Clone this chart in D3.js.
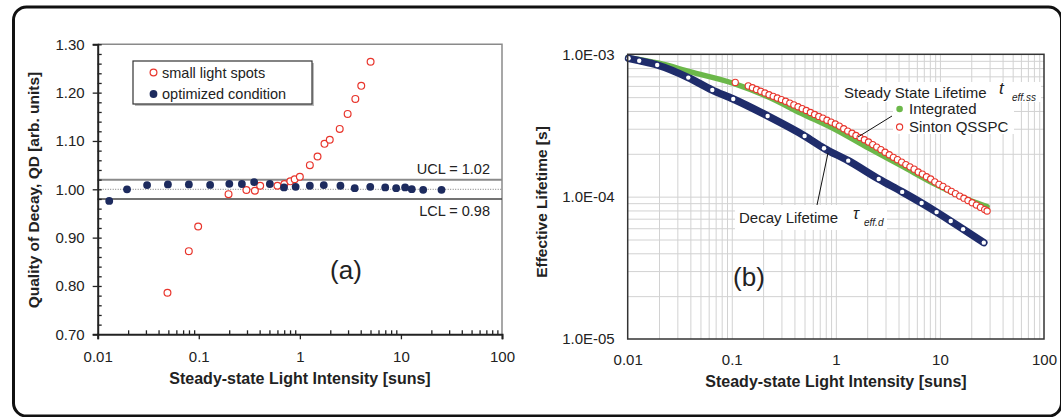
<!DOCTYPE html>
<html><head><meta charset="utf-8">
<script src="https://cdn.jsdelivr.net/npm/d3@7"></script>
<style>
body{margin:0;background:#fff}
svg{display:block}
text{font-family:"Liberation Sans",Arial,Helvetica,sans-serif;fill:#222}
</style></head>
<body>
<svg id="chart" width="1061" height="417"></svg>
<script>
// ---------------- DATA ----------------
const xTickValues = [0.01, 0.1, 1, 10, 100];
const xTickLabels = ["0.01", "0.1", "1", "10", "100"];

// Panel (a): Quality of Decay
const qdTickValues = [0.70, 0.80, 0.90, 1.00, 1.10, 1.20, 1.30];
const qdTickLabels = ["0.70", "0.80", "0.90", "1.00", "1.10", "1.20", "1.30"];
const limitNames  = ["UCL = 1.02", "LCL = 0.98"];
const limitValues = [1.02, 0.98];
const centerValue = 1.00;

const smallSpotsX  = [0.049, 0.0797, 0.0986, 0.197, 0.296, 0.359, 0.405, 0.60, 0.703, 0.805, 0.889, 1.00, 1.256, 1.496, 1.753, 1.977, 2.48, 2.97, 3.54, 4.05, 5.01];
const smallSpotsQD = [0.786, 0.872, 0.923, 0.990, 0.9985, 0.997, 1.0075, 1.0074, 1.011, 1.0165, 1.0207, 1.026, 1.050, 1.068, 1.094, 1.1026, 1.125, 1.156, 1.187, 1.214, 1.264];

const optimizedX  = [0.0130, 0.0195, 0.0308, 0.0495, 0.0798, 0.1295, 0.2005, 0.267, 0.353, 0.505, 0.697, 0.909, 1.256, 1.725, 2.52, 3.49, 4.97, 6.99, 8.97, 11.0, 12.8, 16.6, 25.2];
const optimizedQD = [0.976, 1.000, 1.0087, 1.010, 1.010, 1.009, 1.0114, 1.011, 1.0149, 1.011, 1.0038, 1.0052, 1.0073, 1.0087, 1.0073, 1.0024, 1.0052, 1.0038, 1.0024, 1.0038, 1.0003, 0.9990, 0.999];

// Panel (b): Effective lifetime
const tauTickValues = [1e-5, 1e-4, 1e-3];
const tauTickLabels = ["1.0E-05", "1.0E-04", "1.0E-03"];

const decayX   = [0.0102, 0.0129, 0.0192, 0.0382, 0.065, 0.1033, 0.221, 0.501, 0.769, 1.315, 2.58, 4.34, 6.67, 9.29, 12.7, 16.7, 26.4];
const decayTau = [9.37e-4, 9.02e-4, 8.41e-4, 6.86e-4, 5.61e-4, 4.85e-4, 3.69e-4, 2.67e-4, 2.19e-4, 1.79e-4, 1.33e-4, 1.08e-4, 9.02e-5, 7.79e-5, 6.74e-5, 5.91e-5, 4.75e-5];

const integratedX   = [0.01, 0.02, 0.0394, 0.104, 0.22, 0.465, 0.98, 2.07, 4.38, 9.27, 19.6, 28.4];
const integratedTau = [9.47e-4, 8.65e-4, 7.55e-4, 6.25e-4, 5.05e-4, 3.85e-4, 2.97e-4, 2.19e-4, 1.63e-4, 1.21e-4, 9.38e-5, 8.5e-5];

const sintonX = [0.108, 0.144, 0.158, 0.173, 0.190, 0.208, 0.228, 0.250, 0.274, 0.300, 0.329, 0.361, 0.395, 0.433, 0.475, 0.520, 0.570, 0.625, 0.685, 0.750, 0.822, 0.901, 0.988, 1.08, 1.19, 1.30, 1.43, 1.56, 1.71, 1.88, 2.06, 2.26, 2.47, 2.71, 2.97, 3.26, 3.57, 3.91, 4.29, 4.70, 5.15, 5.65, 6.19, 6.78, 7.43, 8.15, 8.93, 9.79, 10.7, 11.8, 12.9, 14.1, 15.5, 17.0, 18.6, 20.4, 22.4, 24.5, 26.9, 28.4];
const sintonTau = [6.35e-4, 6.00e-4, 5.82e-4, 5.66e-4, 5.50e-4, 5.35e-4, 5.20e-4, 5.07e-4, 4.93e-4, 4.81e-4, 4.68e-4, 4.54e-4, 4.41e-4, 4.28e-4, 4.15e-4, 4.03e-4, 3.90e-4, 3.78e-4, 3.66e-4, 3.56e-4, 3.44e-4, 3.34e-4, 3.24e-4, 3.13e-4, 3.00e-4, 2.89e-4, 2.79e-4, 2.69e-4, 2.60e-4, 2.51e-4, 2.42e-4, 2.32e-4, 2.23e-4, 2.14e-4, 2.05e-4, 1.97e-4, 1.89e-4, 1.82e-4, 1.75e-4, 1.68e-4, 1.62e-4, 1.56e-4, 1.49e-4, 1.44e-4, 1.38e-4, 1.33e-4, 1.27e-4, 1.22e-4, 1.18e-4, 1.13e-4, 1.09e-4, 1.05e-4, 1.01e-4, 9.75e-5, 9.40e-5, 9.06e-5, 8.73e-5, 8.41e-5, 8.11e-5, 7.93e-5];

// ---------------- DRAW ----------------
const svg = d3.select("#chart");

// outer rounded frame
svg.append("rect").attr("x", 13.5).attr("y", 7).attr("width", 1048).attr("height", 409)
  .attr("rx", 13).attr("fill", "none").attr("stroke", "#111").attr("stroke-width", 3);

// minor tick helpers (axis positions only)
const logMinor = [];
[-2, -1, 0, 1].forEach(k => { for (let m = 2; m <= 9; m++) logMinor.push(m * Math.pow(10, k)); });
const logMinorY = [];
[-5, -4].forEach(k => { for (let m = 2; m <= 9; m++) logMinorY.push(m * Math.pow(10, k)); });

// ===== Panel (a) =====
const A = {x0: 97.7, x1: 502, y0: 44.3, y1: 334.3};
const xA = d3.scaleLog().domain([0.01, 100]).range([A.x0, A.x1]);
const yA = d3.scaleLinear().domain([0.70, 1.30]).range([A.y1, A.y0]);
const gA = svg.append("g");

// top/right frame (gray)
gA.append("path").attr("d", `M${A.x0},${A.y0}H${A.x1}V${A.y1}`)
  .attr("fill", "none").attr("stroke", "#8a8a8a").attr("stroke-width", 1.5);

// control lines
gA.append("line").attr("x1", A.x0).attr("x2", A.x1).attr("y1", yA(centerValue)).attr("y2", yA(centerValue))
  .attr("stroke", "#777").attr("stroke-width", 1).attr("stroke-dasharray", "1,1.5");
gA.append("line").attr("x1", A.x0).attr("x2", A.x1).attr("y1", yA(limitValues[0])).attr("y2", yA(limitValues[0]))
  .attr("stroke", "#8a8a8a").attr("stroke-width", 2);
gA.append("line").attr("x1", A.x0).attr("x2", A.x1).attr("y1", yA(limitValues[1])).attr("y2", yA(limitValues[1]))
  .attr("stroke", "#444").attr("stroke-width", 1.5);
gA.append("text").attr("x", 490).attr("y", yA(limitValues[0]) - 6).attr("text-anchor", "end")
  .attr("font-size", 14.5).text(limitNames[0]);
gA.append("text").attr("x", 490).attr("y", yA(limitValues[1]) + 17).attr("text-anchor", "end")
  .attr("font-size", 14.5).text(limitNames[1]);

// axes
const minorLeft = gA.append("g").attr("transform", `translate(${A.x0},0)`)
  .call(d3.axisRight(yA).tickValues(d3.range(0.72, 1.3, 0.02)).tickSize(4).tickFormat(""));
minorLeft.select(".domain").remove();
const minorBot = gA.append("g").attr("transform", `translate(0,${A.y1})`)
  .call(d3.axisTop(xA).tickValues(logMinor).tickSize(4).tickFormat(""));
minorBot.select(".domain").remove();
const axLeftA = gA.append("g").attr("transform", `translate(${A.x0},0)`)
  .call(d3.axisLeft(yA).tickValues(qdTickValues).tickFormat((d, i) => qdTickLabels[i]).tickSize(5).tickPadding(8));
const axBotA = gA.append("g").attr("transform", `translate(0,${A.y1})`)
  .call(d3.axisBottom(xA).tickValues(xTickValues).tickFormat((d, i) => xTickLabels[i]).tickSize(5).tickPadding(12));
[axLeftA, axBotA, minorLeft, minorBot].forEach(a => {
  a.selectAll(".domain").attr("stroke", "#222").attr("stroke-width", 2);
  a.selectAll("line").attr("stroke", "#222").attr("stroke-width", 1.3);
  a.selectAll("text").attr("font-size", 15).attr("fill", "#333").attr("font-family", "Liberation Sans, Arial, sans-serif");
});

// points
gA.append("g").selectAll("circle").data(smallSpotsX).join("circle")
  .attr("cx", d => xA(d)).attr("cy", (d, i) => yA(smallSpotsQD[i])).attr("r", 3.4)
  .attr("fill", "#fff").attr("stroke", "#e8352c").attr("stroke-width", 1.2);
gA.append("g").selectAll("circle").data(optimizedX).join("circle")
  .attr("cx", d => xA(d)).attr("cy", (d, i) => yA(optimizedQD[i])).attr("r", 3.9)
  .attr("fill", "#1d2b5e");

// legend
gA.append("rect").attr("x", 135).attr("y", 63).attr("width", 179).attr("height", 43).attr("fill", "#bbb");
gA.append("rect").attr("x", 133).attr("y", 61).attr("width", 179).attr("height", 43)
  .attr("fill", "#fff").attr("stroke", "#333").attr("stroke-width", 1.2);
gA.append("circle").attr("cx", 153.5).attr("cy", 72.5).attr("r", 3.4).attr("fill", "#fff").attr("stroke", "#e8352c").attr("stroke-width", 1.2);
gA.append("circle").attr("cx", 153.5).attr("cy", 94).attr("r", 3.9).attr("fill", "#1d2b5e");
gA.append("text").attr("x", 162).attr("y", 77.5).attr("font-size", 14.5).text("small light spots");
gA.append("text").attr("x", 162).attr("y", 99).attr("font-size", 14.5).text("optimized condition");

gA.append("text").attr("x", 346).attr("y", 279).attr("text-anchor", "middle")
  .attr("font-family", "Open Sans, sans-serif").attr("font-size", 26).text("(a)");

gA.append("text").attr("transform", "translate(39,190) rotate(-90)").attr("text-anchor", "middle")
  .attr("font-weight", "bold").attr("font-size", 15.5).text("Quality of Decay, QD [arb. units]");
gA.append("text").attr("x", 300).attr("y", 383.5).attr("text-anchor", "middle")
  .attr("font-weight", "bold").attr("font-size", 16).text("Steady-state Light Intensity [suns]");

// ===== Panel (b) =====
const B = {x0: 627.7, x1: 1044, y0: 54.3, y1: 339};
const xB = d3.scaleLog().domain([0.01, 100]).range([B.x0, B.x1]);
const yB = d3.scaleLog().domain([1e-5, 1e-3]).range([B.y1, B.y0]);
const gB = svg.append("g");

// grid
const gridX = gB.append("g").attr("transform", `translate(0,${B.y1})`)
  .call(d3.axisBottom(xB).tickValues(logMinor.concat([0.1, 1, 10])).tickSize(-(B.y1 - B.y0)).tickFormat(""));
const gridY = gB.append("g").attr("transform", `translate(${B.x0},0)`)
  .call(d3.axisLeft(yB).tickValues(logMinorY.concat([1e-4])).tickSize(-(B.x1 - B.x0)).tickFormat(""));
[gridX, gridY].forEach(g => { g.select(".domain").remove(); g.selectAll("line").attr("stroke", "#d2d2d2").attr("stroke-width", 1); });

// legend boxes (white, hide grid)
gB.append("rect").attr("x", 839).attr("y", 82).attr("width", 202).attr("height", 20).attr("fill", "#fff");
gB.append("rect").attr("x", 893).attr("y", 101).attr("width", 121).attr("height", 33).attr("fill", "#fff");
gB.append("rect").attr("x", 735).attr("y", 205).attr("width", 152).attr("height", 25).attr("fill", "#fff");

// series
const lineB = (xs, ys) => d3.line().x((d, i) => xB(xs[i])).y((d, i) => yB(ys[i])).curve(d3.curveMonotoneX)(xs);
gB.append("path").attr("d", lineB(integratedX, integratedTau)).attr("fill", "none")
  .attr("stroke", "#6cb84a").attr("stroke-width", 5.5).attr("stroke-linecap", "round");
gB.append("path").attr("d", lineB(decayX, decayTau)).attr("fill", "none")
  .attr("stroke", "#1f2c6b").attr("stroke-width", 7.5).attr("stroke-linecap", "round");
gB.append("g").selectAll("circle").data(decayX).join("circle")
  .attr("cx", d => xB(d)).attr("cy", (d, i) => yB(decayTau[i])).attr("r", 2.2).attr("fill", "#fff");
gB.append("g").selectAll("circle").data(sintonX).join("circle")
  .attr("cx", d => xB(d)).attr("cy", (d, i) => yB(sintonTau[i])).attr("r", 3.1)
  .attr("fill", "#fff").attr("stroke", "#e8352c").attr("stroke-width", 1.1);

// frame
gB.append("rect").attr("x", B.x0).attr("y", B.y0).attr("width", B.x1 - B.x0).attr("height", B.y1 - B.y0)
  .attr("fill", "none").attr("stroke", "#333").attr("stroke-width", 1.5);

// tick labels
const axLB = gB.append("g").attr("transform", `translate(${B.x0},0)`)
  .call(d3.axisLeft(yB).tickValues(tauTickValues).tickFormat((d, i) => tauTickLabels[i]).tickSize(0).tickPadding(13));
const axBB = gB.append("g").attr("transform", `translate(0,${B.y1})`)
  .call(d3.axisBottom(xB).tickValues(xTickValues).tickFormat((d, i) => xTickLabels[i]).tickSize(0).tickPadding(15));
[axLB, axBB].forEach(a => {
  a.select(".domain").remove();
  a.selectAll("text").attr("font-size", 15).attr("fill", "#333").attr("font-family", "Liberation Sans, Arial, sans-serif");
});

// leader lines
gB.append("line").attr("x1", 892).attr("y1", 116).attr("x2", 858).attr("y2", 137).attr("stroke", "#111").attr("stroke-width", 1);
gB.append("line").attr("x1", 817).attr("y1", 205).attr("x2", 828).attr("y2", 153).attr("stroke", "#111").attr("stroke-width", 1);

// legend text
gB.append("text").attr("x", 844).attr("y", 97.5).attr("font-size", 15).text("Steady State Lifetime");
gB.append("text").attr("x", 999).attr("y", 93.5).attr("font-size", 17).attr("font-style", "italic")
  .attr("font-family", "Liberation Serif, serif").text("t");
gB.append("text").attr("x", 1012).attr("y", 101).attr("font-size", 10).attr("font-style", "italic").text("eff.ss");
gB.append("circle").attr("cx", 899.6).attr("cy", 109).attr("r", 3.3).attr("fill", "#6cb84a");
gB.append("text").attr("x", 909).attr("y", 114).attr("font-size", 15).text("Integrated");
gB.append("circle").attr("cx", 899.6).attr("cy", 127).attr("r", 3.1).attr("fill", "#fff").attr("stroke", "#e8352c").attr("stroke-width", 1.1);
gB.append("text").attr("x", 909).attr("y", 132).attr("font-size", 15).text("Sinton QSSPC");

gB.append("text").attr("x", 739).attr("y", 222.5).attr("font-size", 15).text("Decay Lifetime");
gB.append("text").attr("x", 853).attr("y", 219).attr("font-size", 16).attr("font-style", "italic")
  .attr("font-family", "Liberation Serif, serif").text("τ");
gB.append("text").attr("x", 864).attr("y", 225.5).attr("font-size", 10).attr("font-style", "italic").text("eff.d");

gB.append("text").attr("x", 749).attr("y", 286).attr("text-anchor", "middle")
  .attr("font-family", "Open Sans, sans-serif").attr("font-size", 26).text("(b)");

gB.append("text").attr("transform", "translate(547,202) rotate(-90)").attr("text-anchor", "middle")
  .attr("font-weight", "bold").attr("font-size", 15.5).text("Effective Lifetime [s]");
gB.append("text").attr("x", 836).attr("y", 387).attr("text-anchor", "middle")
  .attr("font-weight", "bold").attr("font-size", 16).text("Steady-state Light Intensity [suns]");
</script>
</body></html>
